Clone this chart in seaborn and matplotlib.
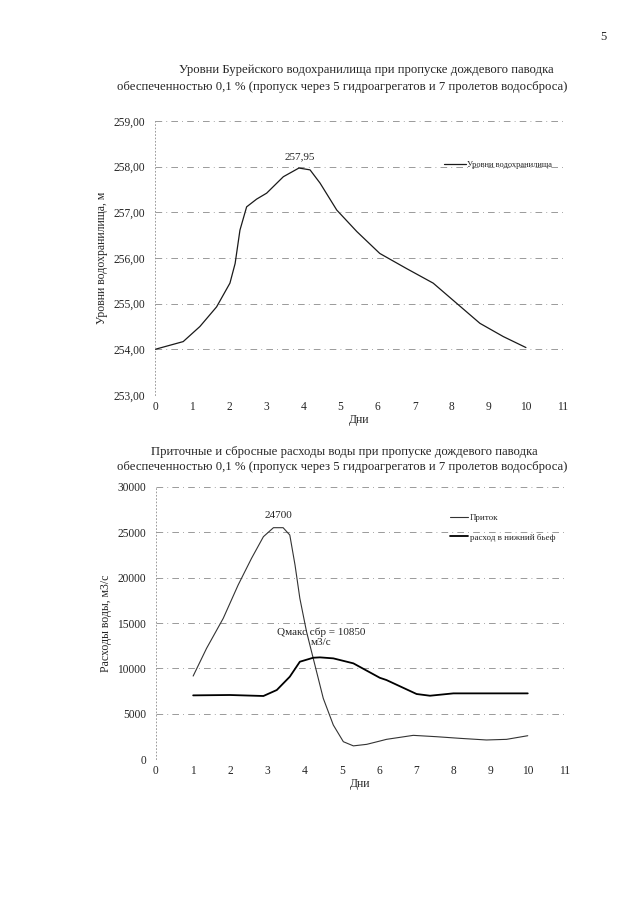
import pandas as pd
import seaborn as sns
import matplotlib.pyplot as plt
import matplotlib.ticker as ticker

# --- data ---
days_level = [0, 0.76, 1.21, 1.66, 2.02, 2.16, 2.29, 2.47, 2.74, 3.01, 3.46, 3.88, 4.18,
              4.45, 4.90, 5.44, 6.06, 6.78, 7.50, 8.13, 8.76, 9.39, 10.0]
level = [254.00, 254.17, 254.50, 254.93, 255.45, 255.88, 256.61, 257.12, 257.29, 257.42,
         257.78, 257.97, 257.93, 257.64, 257.05, 256.58, 256.10, 255.77, 255.45, 255.01,
         254.57, 254.28, 254.04]

days_in = [1.0, 1.36, 1.81, 2.21, 2.57, 2.89, 3.16, 3.42, 3.60, 3.74, 3.87, 4.05, 4.23,
           4.50, 4.77, 5.04, 5.31, 5.67, 6.02, 6.20, 6.92, 7.55, 8.18, 8.89, 9.43, 10.0]
inflow = [9150, 12200, 15520, 19190, 22130, 24520, 25510, 25510, 24700, 21400, 17720,
          14040, 11100, 6690, 3750, 1910, 1450, 1620, 1980, 2170, 2610, 2460, 2280, 2100,
          2170, 2570]

days_out = [1.0, 1.99, 2.89, 3.25, 3.60, 3.87, 4.23, 4.41, 4.77, 5.31, 6.02, 6.20, 7.01,
            7.37, 8.0, 8.89, 10.0]
outflow = [7020, 7060, 6950, 7610, 9080, 10730, 11170, 11210, 11100, 10550, 8960, 8710,
           7170, 6980, 7240, 7240, 7240]

level_ticks = [253, 254, 255, 256, 257, 258, 259]
flow_ticks = [0, 5000, 10000, 15000, 20000, 25000, 30000]
day_ticks = list(range(0, 12))

title1 = ["Уровни Бурейского водохранилища при пропуске дождевого паводка",
          "обеспеченностью 0,1 % (пропуск через 5 гидроагрегатов и 7 пролетов водосброса)"]
title2 = ["Приточные и сбросные расходы воды при пропуске дождевого паводка",
          "обеспеченностью 0,1 % (пропуск через 5 гидроагрегатов и 7 пролетов водосброса)"]

sns.set_style("white")
plt.rcParams['font.family'] = ['Liberation Serif', 'DejaVu Serif']

fig = plt.figure(figsize=(6.4, 9.05), dpi=100)

grid_style = dict(color='#8a8a8a', linewidth=0.6, linestyle=(0, (8, 5, 1, 5)))


def style_axes(ax, yticks, fmt):
    ax.set_xlim(0, 11)
    ax.set_xticks(day_ticks)
    ax.set_yticks(yticks)
    ax.yaxis.set_major_formatter(ticker.FuncFormatter(fmt))
    ax.set_ylim(yticks[0], yticks[-1])
    for s in ['top', 'right', 'bottom']:
        ax.spines[s].set_visible(False)
    ax.spines['left'].set_linestyle((0, (1, 3)))
    ax.spines['left'].set_color('#8a8a8a')
    ax.spines['left'].set_linewidth(0.6)
    ax.grid(False)
    for v in yticks:
        ax.axhline(v, **grid_style, zorder=0)
    ax.tick_params(axis='y', length=0, labelsize=8.3, pad=7)
    ax.tick_params(axis='x', length=0, labelsize=8.3, pad=4)
    ax.set_xlabel("Дни", fontsize=8.5, labelpad=1)


# --- chart 1: reservoir levels ---
ax1 = fig.add_axes([0.2422, 0.5635, 0.6375, 0.3028])
df1 = pd.DataFrame({'day': days_level, 'level': level})
sns.lineplot(data=df1, x='day', y='level', ax=ax1, color='#1a1a1a', linewidth=0.9,
             label='Уровни водохранилища')
style_axes(ax1, level_ticks, lambda v, p: f"{v:.2f}".replace('.', ','))
ax1.set_ylabel("Уровни водохранилища, м", fontsize=8.5, labelpad=4)
ax1.annotate("257,95", (3.9, 257.97), xytext=(0, 5), textcoords='offset points',
             ha='center', va='bottom', fontsize=8)
ax1.legend(loc='upper left', bbox_to_anchor=(0.69, 0.88), frameon=False, fontsize=6,
           handlelength=2.6, handletextpad=0.2)

# --- chart 2: inflow and outflow ---
ax2 = fig.add_axes([0.2437, 0.1613, 0.639, 0.3006])
df_in = pd.DataFrame({'day': days_in, 'q': inflow})
df_out = pd.DataFrame({'day': days_out, 'q': outflow})
sns.lineplot(data=df_in, x='day', y='q', ax=ax2, color='#333333', linewidth=0.8,
             label='Приток')
sns.lineplot(data=df_out, x='day', y='q', ax=ax2, color='black', linewidth=1.3,
             label='расход в нижний бьеф')
style_axes(ax2, flow_ticks, lambda v, p: f"{int(v)}")
ax2.set_ylabel("Расходы воды, м3/с", fontsize=8.5, labelpad=4)
ax2.annotate("24700", (3.3, 25600), xytext=(0, 5), textcoords='offset points',
             ha='center', va='bottom', fontsize=8)
ax2.text(4.45, 13400, "Qмакс сбр = 10850\nм3/с", ha='center', va='center',
         fontsize=8, linespacing=1.1)
ax2.legend(loc='upper left', bbox_to_anchor=(0.70, 0.93), frameon=False, fontsize=6.5,
           handlelength=2.0, handletextpad=0.2, labelspacing=1.2)

# --- titles and page number ---
fig.text(366 / 640, 1 - 70 / 905, title1[0], ha='center', va='center', fontsize=9.2)
fig.text(342 / 640, 1 - 87 / 905, title1[1], ha='center', va='center', fontsize=9.2)
fig.text(344 / 640, 1 - 452 / 905, title2[0], ha='center', va='center', fontsize=9.2)
fig.text(342 / 640, 1 - 467 / 905, title2[1], ha='center', va='center', fontsize=9.2)
fig.text(603 / 640, 1 - 37 / 905, "5", ha='center', va='center', fontsize=9)

fig.savefig("out.png", dpi=100, facecolor='white')
